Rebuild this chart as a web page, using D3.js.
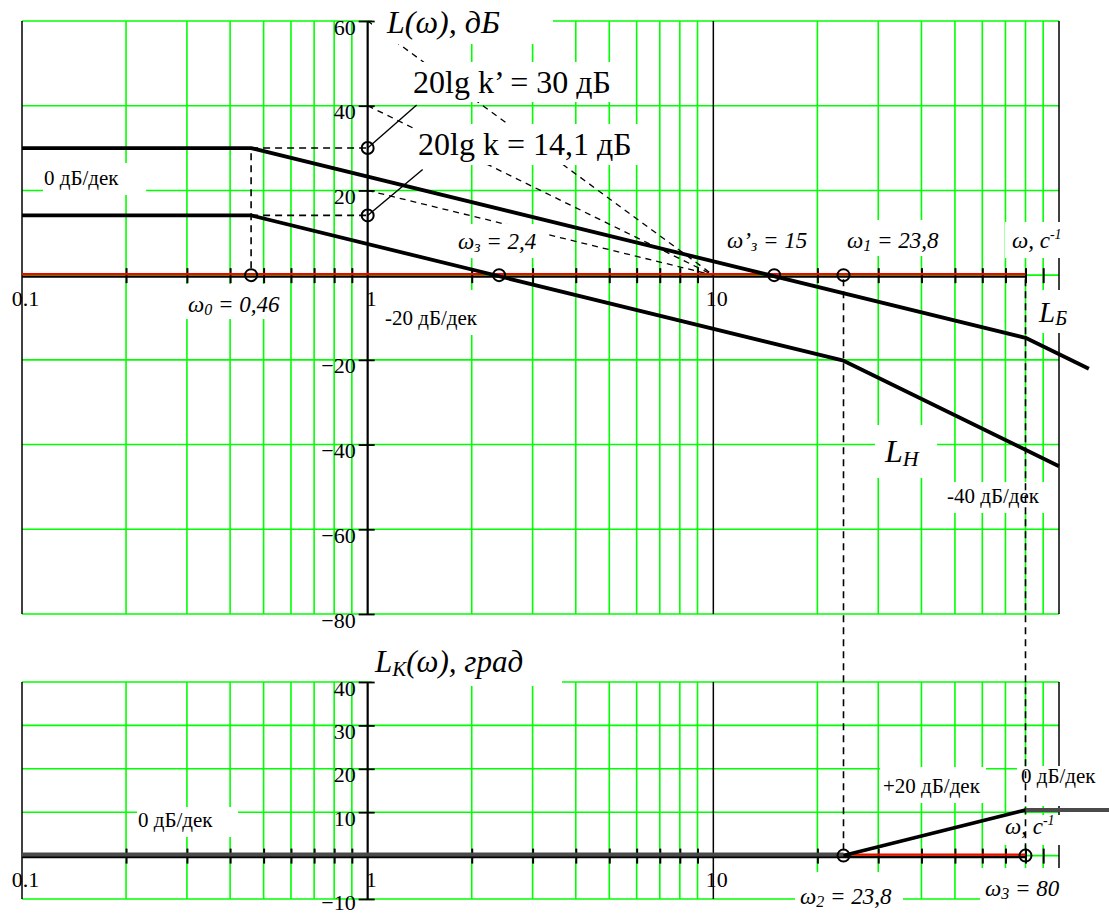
<!DOCTYPE html>
<html>
<head>
<meta charset="utf-8">
<script src="https://cdn.jsdelivr.net/npm/d3@7"></script>
<style>
  html, body { margin: 0; padding: 0; background: #fff; }
  svg { display: block; }
  text { font-family: "Liberation Serif", "Times New Roman", serif; fill: #000; }
</style>
</head>
<body>
<svg id="chart" width="1109" height="913"></svg>
<script>
// ---- data -------------------------------------------------------------
// frequency axis (rad/s), log scale
const freqDomain = [0.1, 100];
const majorFreqs = [0.1, 1, 10];
const majorFreqLabels = ["0.1", "1", "10"];

// upper panel: amplitude characteristics, dB
const magDomain = [-80, 60];
const magTicks = [60, 40, 20, -20, -40, -60, -80];

// desired characteristic L_Б
const lbFreq = [0.1, 0.46, 80, 122];
const lbDb   = [30, 30, -14.8, -22.1];

// uncorrected characteristic L_H
const lhFreq = [0.1, 0.46, 23.8, 100];
const lhDb   = [14.1, 14.1, -20.2, -45.1];

// zero-dB reference line
const zeroFreq = [0.1, 80];
const zeroDb   = [0, 0];

// marked points on the upper panel
const topPointFreq = [0.46, 1, 1, 2.4, 15, 23.8];
const topPointDb   = [0, 30, 14.1, 0, 0, 0];

// slope templates drawn from the ordinate axis to ω = 10
const slopeStartDb = [60, 40, 20];
const slopeFreq = [1, 10];

// lower panel: correcting characteristic L_K
const corrDomain = [-10, 40];
const corrTicks = [40, 30, 20, 10, -10];
const lkFreq = [0.1, 23.8, 80, 140];
const lkDb   = [0, 0, 10.5, 10.5];
const botPointFreq = [23.8, 80];
const botPointDb   = [0, 0];

// break frequencies carried down between panels
const dropFreq = [23.8, 80];

// ---- scales -----------------------------------------------------------
const svg = d3.select("#chart");
const x = d3.scaleLog().domain(freqDomain).range([22, 1059]);
const yT = d3.scaleLinear().domain(magDomain).range([614, 21]);
const yB = d3.scaleLinear().domain(corrDomain).range([899, 682]);

const minorFreqs = [];
[0.1, 1, 10].forEach(d => { for (let k = 2; k <= 9; k++) minorFreqs.push(+(d * k).toPrecision(3)); });
const decadeFreqs = [0.1, 10, 100];

const GREEN = "#00ff00";
const SERIF = '"Liberation Serif", "Times New Roman", serif';

// ---- grid -------------------------------------------------------------
function grid(y, ticks, top, bottom) {
  const g = svg.append("g");
  const hLines = ticks.concat([0]);
  g.selectAll("line.h").data(hLines).join("line")
    .attr("x1", x(freqDomain[0])).attr("x2", x(freqDomain[1]))
    .attr("y1", d => y(d)).attr("y2", d => y(d))
    .attr("stroke", GREEN).attr("stroke-width", 1.6);
  g.selectAll("line.v").data(minorFreqs).join("line")
    .attr("x1", d => x(d)).attr("x2", d => x(d))
    .attr("y1", top).attr("y2", bottom)
    .attr("stroke", GREEN).attr("stroke-width", 1.6);
  g.selectAll("line.d").data(decadeFreqs).join("line")
    .attr("x1", d => x(d)).attr("x2", d => x(d))
    .attr("y1", top).attr("y2", bottom)
    .attr("stroke", "#000").attr("stroke-width", 1.5);
}
grid(yT, magTicks, yT(60), yT(-80));
grid(yB, corrTicks, yB(40), yB(-10));

// ---- slope templates and leader lines ---------------------------------
const lineGen = (y) => d3.line().x(d => x(d[0])).y(d => y(d[1]));
svg.append("g").selectAll("path").data(slopeStartDb).join("path")
  .attr("d", d => lineGen(yT)([[slopeFreq[0], d], [slopeFreq[1], 0]]))
  .attr("fill", "none").attr("stroke", "#000").attr("stroke-width", 1.3)
  .attr("stroke-dasharray", "6,5");

const leaders = [
  { f: 1, v: 30, dx: 49, dy: -43 },
  { f: 1, v: 14.1, dx: 55, dy: -46 }
];
svg.append("g").selectAll("line").data(leaders).join("line")
  .attr("x1", d => x(d.f)).attr("y1", d => yT(d.v))
  .attr("x2", d => x(d.f) + d.dx).attr("y2", d => yT(d.v) + d.dy)
  .attr("stroke", "#000").attr("stroke-width", 1.4);

// ---- label backgrounds --------------------------------------------------
const labels = [
  { parts: [["L(ω), дБ"]], it: true, fs: 32, x: 387, y: 33, box: [372, 0, 553, 44] },
  { parts: [["20lg k’ = 30 дБ"]], it: false, fs: 32, x: 413, y: 93, box: [410, 62, 617, 102] },
  { parts: [["20lg k = 14,1 дБ"]], it: false, fs: 32, x: 418, y: 155, box: [416, 124, 640, 165] },
  { parts: [["0 дБ/дек"]], it: false, fs: 21, x: 44, y: 185, box: [43, 163, 146, 195] },
  { parts: [["ω"], ["0", "sub"], [" = 0,46"]], it: true, fs: 23, x: 188, y: 312, box: [185, 284, 285, 319] },
  { parts: [["-20 дБ/дек"]], it: false, fs: 21, x: 385, y: 325, box: [380, 290, 480, 335] },
  { parts: [["ω"], ["з", "sub"], [" = 2,4"]], it: true, fs: 23, x: 458, y: 249, box: [450, 224, 545, 258] },
  { parts: [["ω’"], ["з", "sub"], [" = 15"]], it: true, fs: 23, x: 727, y: 248, box: [722, 225, 812, 258] },
  { parts: [["ω"], ["1", "sub"], [" = 23,8"]], it: true, fs: 23, x: 847, y: 248, box: [840, 220, 948, 256] },
  { parts: [["ω, c"], ["-1", "sup"]], it: true, fs: 23, x: 1012, y: 248, box: [1005, 222, 1068, 258] },
  { parts: [["L"], ["Б", "sub"]], it: true, fs: 29, x: 1039, y: 322, box: [1035, 290, 1080, 333] },
  { parts: [["L"], ["H", "sub"]], it: true, fs: 32, x: 885, y: 462, box: [875, 425, 937, 478] },
  { parts: [["-40 дБ/дек"]], it: false, fs: 21, x: 947, y: 503, box: [940, 482, 1045, 513] },
  { parts: [["L"], ["K", "sub"], ["(ω), град"]], it: true, fs: 31, x: 375, y: 672, box: [372, 645, 562, 686] },
  { parts: [["0 дБ/дек"]], it: false, fs: 21, x: 138, y: 827, box: [137, 807, 238, 837] },
  { parts: [["+20 дБ/дек"]], it: false, fs: 21, x: 883, y: 793, box: [880, 767, 986, 803] },
  { parts: [["0 дБ/дек"]], it: false, fs: 21, x: 1021, y: 783, box: [1017, 766, 1100, 806] },
  { parts: [["ω, c"], ["-1", "sup"]], it: true, fs: 23, x: 1005, y: 834, box: [1000, 815, 1060, 845] },
  { parts: [["ω"], ["2", "sub"], [" = 23,8"]], it: true, fs: 23, x: 800, y: 904, box: [795, 872, 903, 913] },
  { parts: [["ω"], ["3", "sub"], [" = 80"]], it: true, fs: 23, x: 985, y: 896, box: [980, 868, 1062, 913] }
];
svg.append("g").selectAll("rect").data(labels).join("rect")
  .attr("x", d => d.box[0]).attr("y", d => d.box[1])
  .attr("width", d => d.box[2] - d.box[0]).attr("height", d => d.box[3] - d.box[1])
  .attr("fill", "#fff");

// ---- axes -------------------------------------------------------------
function yAxis(y, ticks, fs, lowest) {
  const g = svg.append("g").attr("transform", `translate(${x(1)},0)`)
    .call(d3.axisLeft(y).tickValues(ticks).tickSize(9).tickPadding(4).tickFormat(d3.format("d")));
  g.select(".domain").remove();
  g.append("line").attr("x1", 0).attr("x2", 0)
    .attr("y1", y.range()[1]).attr("y2", y.range()[0])
    .attr("stroke", "#000").attr("stroke-width", 2.2);
  g.selectAll(".tick line").attr("x1", 7).attr("x2", -9).attr("stroke", "#000").attr("stroke-width", 1.8);
  g.selectAll(".tick text")
    .attr("x", -12).attr("dy", null).attr("y", d => d === lowest ? 10 : 13)
    .style("font-family", SERIF)
    .style("font-size", fs + "px").attr("fill", "#000");
}
yAxis(yT, magTicks, 22, null);
yAxis(yB, corrTicks, 22, -10);

function xAxis(y) {
  const y0 = y(0);
  const g = svg.append("g").attr("transform", `translate(0,${y0})`);
  const minor = g.append("g")
    .call(d3.axisBottom(x).tickValues(minorFreqs).tickSize(8).tickFormat(""));
  minor.select(".domain").remove();
  minor.selectAll(".tick line").attr("y1", -7).attr("y2", 8).attr("stroke", "#000").attr("stroke-width", 2);
  const major = g.append("g")
    .call(d3.axisBottom(x).tickValues(majorFreqs).tickSize(0).tickPadding(20)
      .tickFormat((d, i) => majorFreqLabels[i]));
  major.select(".domain").remove();
  major.selectAll(".tick text")
    .attr("dx", 3).attr("dy", null).attr("y", 31)
    .style("font-family", SERIF)
    .style("font-size", "22px").attr("fill", "#000");
  // zero reference: dark line with red line on top
  const zl = d3.line().x(d => x(d[0])).y(d => d[1]);
  const pts = zeroFreq.map((f, i) => [f, zeroDb[i]]);
  g.append("path").attr("d", zl(pts.map(p => [p[0], 1.6])))
    .attr("fill", "none").attr("stroke", "#000").attr("stroke-width", 2.2);
  g.append("path").attr("d", zl(pts.map(p => [p[0], -1])))
    .attr("fill", "none").attr("stroke", "#ff0000").attr("stroke-width", 2.4);
}
xAxis(yT);
xAxis(yB);

// ---- guides -----------------------------------------------------------
const guides = svg.append("g").attr("fill", "none").attr("stroke", "#000")
  .attr("stroke-width", 1.6).attr("stroke-dasharray", "7,5");
guides.append("line").attr("x1", x(0.46)).attr("x2", x(0.46)).attr("y1", yT(0) - 7).attr("y2", yT(30));
guides.append("line").attr("x1", x(0.46)).attr("x2", x(1)).attr("y1", yT(30)).attr("y2", yT(30));
guides.append("line").attr("x1", x(0.46)).attr("x2", x(1)).attr("y1", yT(14.1)).attr("y2", yT(14.1));
guides.selectAll("line.drop").data(dropFreq).join("line")
  .attr("x1", d => x(d)).attr("x2", d => x(d))
  .attr("y1", yT(0) + 4).attr("y2", yB(0));

// ---- characteristics ----------------------------------------------------
const thick = svg.append("g").attr("fill", "none").attr("stroke-linejoin", "round");
thick.append("path").attr("d", lineGen(yT)(lbFreq.map((f, i) => [f, lbDb[i]])))
  .attr("stroke", "#000").attr("stroke-width", 3.8);
thick.append("path").attr("d", lineGen(yT)(lhFreq.map((f, i) => [f, lhDb[i]])))
  .attr("stroke", "#000").attr("stroke-width", 3.8);

// L_K: flat parts in dark grey, rising part in black
const lkPts = lkFreq.map((f, i) => [f, lkDb[i]]);
const lkSegs = d3.pairs(lkPts);
thick.selectAll("path.lk").data(lkSegs).join("path")
  .attr("d", d => lineGen(yB)(d))
  .attr("transform", (d, i) => i === 0 ? "translate(0,-1)" : null)
  .attr("stroke", (d, i) => i === 1 ? "#000" : "#4a4a4a")
  .attr("stroke-width", (d, i) => i === 1 ? 3.6 : 4);

// ---- marked points ------------------------------------------------------
const pts = svg.append("g").attr("fill", "none").attr("stroke", "#000").attr("stroke-width", 2);
pts.selectAll("circle.t").data(topPointFreq.map((f, i) => [f, topPointDb[i]])).join("circle")
  .attr("cx", d => x(d[0])).attr("cy", d => yT(d[1])).attr("r", 6);
pts.selectAll("circle.b").data(botPointFreq.map((f, i) => [f, botPointDb[i]])).join("circle")
  .attr("cx", d => x(d[0])).attr("cy", d => yB(d[1])).attr("r", 6);

// ---- labels -------------------------------------------------------------
const tg = svg.append("g");
labels.forEach(l => {
  const t = tg.append("text").attr("x", l.x).attr("y", l.y)
    .style("font-family", SERIF)
    .style("font-size", l.fs + "px")
    .style("font-style", l.it ? "italic" : "normal");
  l.parts.forEach((p, k) => {
    const s = t.append("tspan").text(p[0]);
    if (p[1] === "sub") s.style("font-size", Math.round(l.fs * 0.68) + "px").attr("dy", l.fs * 0.12);
    if (p[1] === "sup") s.style("font-size", Math.round(l.fs * 0.62) + "px").attr("dy", -l.fs * 0.38);
    if (p[1] === undefined && k > 0) {
      const prev = l.parts[k - 1];
      if (prev[1] === "sub") s.attr("dy", -l.fs * 0.12);
      if (prev[1] === "sup") s.attr("dy", l.fs * 0.38);
    }
  });
});
</script>
</body>
</html>
